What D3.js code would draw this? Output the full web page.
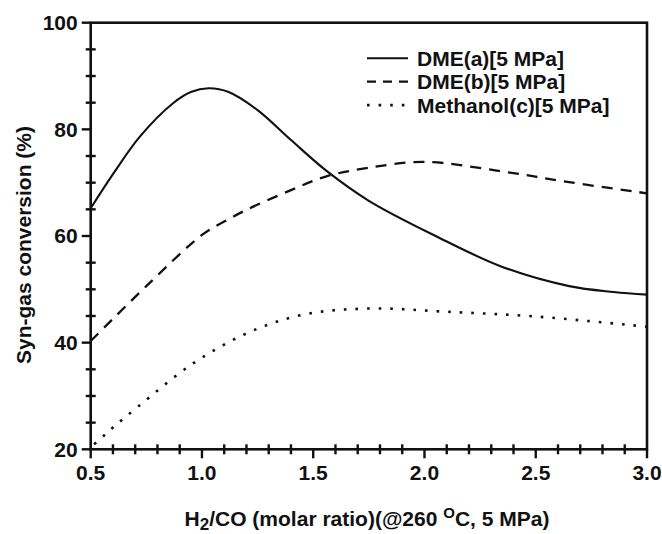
<!DOCTYPE html>
<html>
<head>
<meta charset="utf-8">
<script src="https://cdn.jsdelivr.net/npm/d3@7"></script>
<style>
  body { margin: 0; background: #fff; }
  text { font-family: "Liberation Sans", Arial, sans-serif; font-weight: bold; fill: #111; }
  .frame { fill: none; stroke: #111; stroke-width: 2.6; }
  .tick { stroke: #111; stroke-width: 2.4; }
  .curve { fill: none; stroke: #111; }
</style>
</head>
<body>
<script>
// x values (H2/CO molar ratio) and conversion (%)
var dmeA_x = [0.5, 0.6, 0.72, 0.87, 0.95, 1.03, 1.12, 1.25, 1.4, 1.56, 1.75, 2.05, 2.35, 2.65, 2.85, 3.0];
var dmeA_y = [65.2, 71.6, 78.6, 84.9, 87.0, 87.7, 87.0, 83.6, 78.0, 72.2, 66.6, 60.0, 54.2, 50.6, 49.5, 49.0];

var dmeB_x = [0.5, 0.75, 1.0, 1.1, 1.2, 1.4, 1.56, 1.75, 2.0, 2.35, 2.65, 3.0];
var dmeB_y = [40.3, 50.6, 60.2, 62.7, 64.9, 68.6, 71.2, 72.8, 73.9, 72.1, 70.1, 68.0];

var meoh_x = [0.5, 0.55, 0.6, 0.71, 0.96, 1.22, 1.46, 1.75, 2.1, 2.5, 2.95, 3.0];
var meoh_y = [20.4, 22.2, 24.1, 27.9, 36.1, 42.1, 45.3, 46.4, 45.8, 44.9, 43.2, 43.0];

var seriesNames = ["DME(a)[5 MPa]", "DME(b)[5 MPa]", "Methanol(c)[5 MPa]"];
var seriesDash = [null, "11 8", "2.6 9"];
var seriesWidth = [2.1, 2.3, 2.6];

var xTicks = [0.5, 1.0, 1.5, 2.0, 2.5, 3.0];
var yTicks = [20, 40, 60, 80, 100];

// set the dimensions and margins of the diagram
var margin = {top: 22.7, right: 15, bottom: 84.7, left: 90.7},
    width = 662 - margin.left - margin.right,
    height = 534 - margin.top - margin.bottom;

var x = d3.scaleLinear().domain([0.5, 3.0]).range([0, width]);
var y = d3.scaleLinear().domain([20, 100]).range([height, 0]);

var svg = d3.select("body").append("svg")
    .attr("width", 662)
    .attr("height", 534);

var g = svg.append("g")
    .attr("transform", "translate(" + margin.left + "," + margin.top + ")");

/* the three curves */
var series = [
  d3.zip(dmeA_x, dmeA_y),
  d3.zip(dmeB_x, dmeB_y),
  d3.zip(meoh_x, meoh_y)
];

var line = d3.line()
    .x(function(d) { return x(d[0]) })
    .y(function(d) { return y(d[1]) })
    .curve(d3.curveCatmullRom.alpha(0.5));

g.selectAll(".curve")
  .data(series)
  .enter()
  .append("path")
  .attr("class", "curve")
  .attr("d", line)
  .attr("stroke-width", function(d, i) { return seriesWidth[i] })
  .attr("stroke-dasharray", function(d, i) { return seriesDash[i] })
  .attr("stroke-dashoffset", function(d, i) { return i == 2 ? 7 : 0 });

/* minor ticks cross the axis, major ticks point out */
var xMinor = d3.range(0.6, 3.0, 0.1).filter(function(v) { return Math.abs(v * 2 - Math.round(v * 2)) > 0.01 });
var yMinor = d3.range(25, 100, 5).filter(function(v) { return v % 20 != 0 });

g.selectAll(".xminor")
  .data(xMinor)
  .enter().append("line")
  .attr("class", "tick")
  .attr("x1", function(d) { return x(d) }).attr("x2", function(d) { return x(d) })
  .attr("y1", height - 5).attr("y2", height + 5);

g.selectAll(".xmajor")
  .data(xTicks)
  .enter().append("line")
  .attr("class", "tick")
  .attr("x1", function(d) { return x(d) }).attr("x2", function(d) { return x(d) })
  .attr("y1", height).attr("y2", height + 9);

g.selectAll(".yminor")
  .data(yMinor)
  .enter().append("line")
  .attr("class", "tick")
  .attr("y1", function(d) { return y(d) }).attr("y2", function(d) { return y(d) })
  .attr("x1", -5).attr("x2", 5);

g.selectAll(".ymajor")
  .data(yTicks)
  .enter().append("line")
  .attr("class", "tick")
  .attr("y1", function(d) { return y(d) }).attr("y2", function(d) { return y(d) })
  .attr("x1", -9).attr("x2", 0);

// the box round the plot
g.append("rect")
  .attr("class", "frame")
  .attr("width", width)
  .attr("height", height);

/* tick labels */
g.selectAll(".xlabel")
  .data(xTicks)
  .enter().append("text")
  .attr("x", function(d) { return x(d) })
  .attr("y", height + 31)
  .style("text-anchor", "middle")
  .style("font-size", "21px")
  .text(function(d) { return d3.format(".1f")(d) });

g.selectAll(".ylabel")
  .data(yTicks)
  .enter().append("text")
  .attr("x", -13)
  .attr("y", function(d) { return y(d) + 7.5 })
  .style("text-anchor", "end")
  .style("font-size", "21px")
  .text(function(d) { return d });

/* axis titles */
var xTitle = svg.append("text")
  .attr("x", 367)
  .attr("y", 526)
  .style("text-anchor", "middle")
  .style("font-size", "21px");
xTitle.append("tspan").text("H");
xTitle.append("tspan").attr("dy", 4).style("font-size", "17px").text("2");
xTitle.append("tspan").attr("dy", -4).text("/CO (molar ratio)(@260 ");
xTitle.append("tspan").attr("dy", -8).style("font-size", "15px").text("O");
xTitle.append("tspan").attr("dy", 8).text("C, 5 MPa)");

svg.append("text")
  .attr("transform", "translate(31,245) rotate(-90)")
  .style("text-anchor", "middle")
  .style("font-size", "21px")
  .text("Syn-gas conversion (%)");

/* legend, no box */
var legend = svg.selectAll(".legend")
  .data(seriesNames)
  .enter().append("g")
  .attr("transform", function(d, i) { return "translate(367," + (58.3 + i * 23.4) + ")" });

legend.append("line")
  .attr("class", "curve")
  .attr("x1", 0).attr("x2", 41)
  .attr("stroke-width", function(d, i) { return seriesWidth[i] })
  .attr("stroke-dasharray", function(d, i) { return i == 1 ? "9 7" : seriesDash[i] });

legend.append("text")
  .attr("x", 50)
  .attr("y", 7.5)
  .style("font-size", "21px")
  .text(function(d) { return d });
</script>
</body>
</html>
